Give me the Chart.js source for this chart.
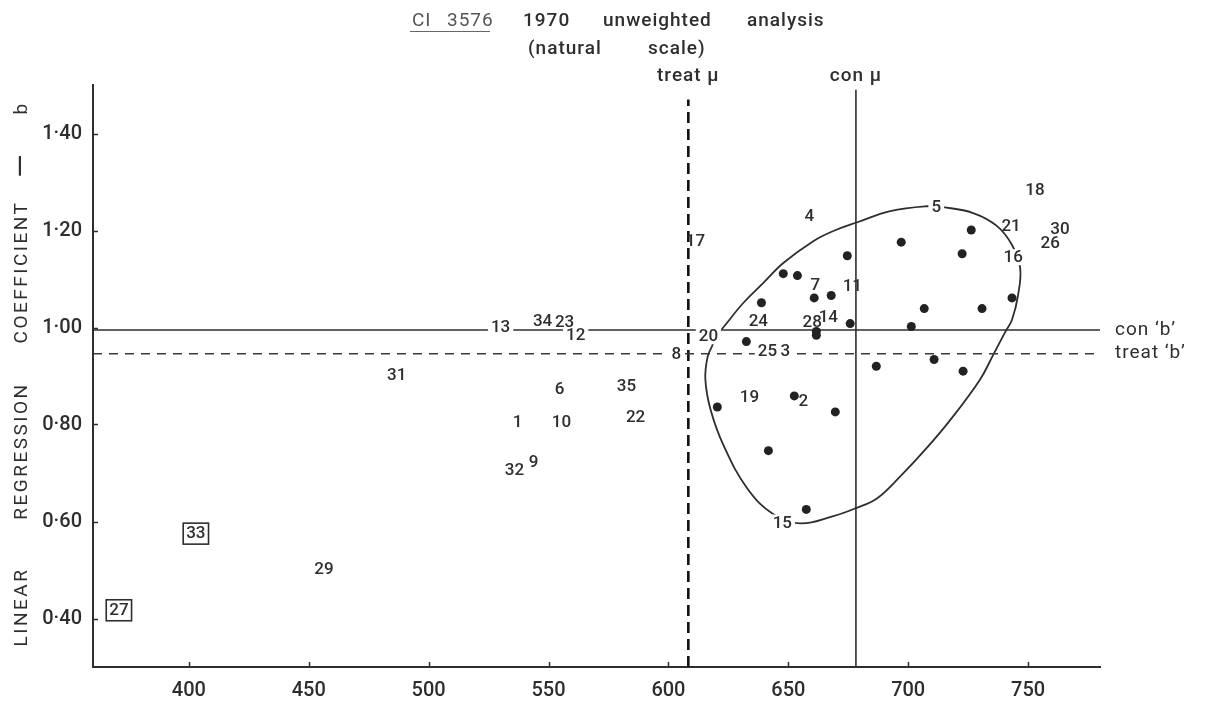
<!DOCTYPE html>
<html>
<head>
<meta charset="utf-8">
<script src="https://cdn.jsdelivr.net/npm/chart.js@4.4.1/dist/chart.umd.min.js"></script>
<style>
  html, body { margin: 0; padding: 0; background: #fff; }
  canvas { display: block; }
</style>
</head>
<body>
<canvas id="c" width="1206" height="710"></canvas>
<script>
// Numbered sites: mean yield (x) and linear regression coefficient b (y)
const siteIds  = [1, 2, 3, 4, 5, 6, 7, 8, 9, 10, 11, 12, 13, 14, 15, 16, 17, 18,
                  19, 20, 21, 22, 23, 24, 25, 26, 27, 28, 29, 30, 31, 32, 33, 34, 35];
const siteMean = [537.1, 656.3, 648.8, 658.8, 711.7, 554.6, 661.3, 603.3, 543.8, 555.4,
                  676.7, 561.3, 530.0, 666.7, 647.5, 743.8, 611.3, 752.9, 633.8, 616.7,
                  742.9, 586.3, 556.7, 637.5, 641.3, 759.2, 370.8, 660.0, 456.3, 763.3,
                  486.7, 535.8, 402.9, 547.5, 582.5];
const siteB    = [0.805, 0.850, 0.953, 1.230, 1.248, 0.873, 1.088, 0.945, 0.723, 0.805,
                  1.086, 0.986, 1.002, 1.023, 0.598, 1.145, 1.178, 1.283, 0.857, 0.982,
                  1.209, 0.816, 1.012, 1.014, 0.953, 1.174, 0.418, 1.012, 0.502, 1.203,
                  0.902, 0.707, 0.576, 1.014, 0.879];

// Unnumbered points inside the contour
const dotMean = [674.6, 647.9, 653.8, 660.8, 667.9, 638.8, 675.8, 661.7, 661.7, 632.5,
                 697.1, 726.3, 722.5, 743.3, 706.7, 730.8, 701.3, 710.8, 686.7, 722.9,
                 620.4, 652.5, 669.6, 641.7, 657.5];
const dotB    = [1.148, 1.111, 1.107, 1.061, 1.066, 1.051, 1.008, 0.992, 0.984, 0.971,
                 1.176, 1.201, 1.152, 1.061, 1.039, 1.039, 1.002, 0.934, 0.920, 0.910,
                 0.836, 0.859, 0.826, 0.746, 0.625];

// Closed contour drawn round the main cluster (starts and ends at site 20)
const loopMean = [619.6, 622.5, 631.3, 639.6, 647.9, 660.4, 668.8, 678.8, 692.5, 707.9,
                  714.6, 727.1, 737.1, 743.3, 746.7, 745.8, 743.3, 740.4, 735.4, 730.0,
                  717.5, 707.1, 696.7, 687.1, 677.9, 668.8, 655.0, 643.8, 632.9, 622.9,
                  617.5, 615.4, 616.3, 618.3, 619.6];
const loopB    = [0.982, 0.998, 1.051, 1.092, 1.133, 1.178, 1.199, 1.217, 1.240, 1.250,
                  1.248, 1.236, 1.209, 1.170, 1.123, 1.066, 1.016, 0.990, 0.943, 0.893,
                  0.809, 0.748, 0.693, 0.648, 0.627, 0.611, 0.596, 0.615, 0.668, 0.758,
                  0.832, 0.893, 0.939, 0.963, 0.982];

// Reference means and slopes
const conMu = 678.2;
const treatMu = 608.3;
const conB = 0.995;
const treatB = 0.946;

// Axis ticks
const xTicks = [400, 450, 500, 550, 600, 650, 700, 750];
const yTicks = [0.40, 0.60, 0.80, 1.00, 1.20, 1.40];
const xRange = [360, 780];
const yRange = [0.30, 1.50];

// Sites drawn in a box, and sites whose label cuts the line beneath it
const boxedSites = [27, 33];
const cutSites = [3, 5, 8, 12, 13, 15, 16, 20, 25];

const FONT = '"Roboto", "DejaVu Sans", sans-serif';
const INK = '#2e2e2e';

const sitePoints = siteIds.map((id, i) => ({ x: siteMean[i], y: siteB[i], id }));
const dotPoints = dotMean.map((m, i) => ({ x: m, y: dotB[i] }));
const loopPoints = loopMean.map((m, i) => ({ x: m, y: loopB[i] }));

function lineSet(label, pts, extra) {
  return Object.assign({
    label, data: pts, showLine: true, pointRadius: 0, borderColor: INK,
    borderWidth: 1.6, fill: false, order: 3
  }, extra || {});
}

// Numbers written at each site, with white cut-outs where they sit on a line
const siteLabels = {
  id: 'siteLabels',
  afterDatasetDraw(chart, args) {
    const ds = chart.data.datasets[args.index];
    if (ds.label !== 'sites') return;
    const ctx = chart.ctx;
    const meta = args.meta;
    ctx.save();
    ctx.font = '500 17px ' + FONT;
    ctx.textAlign = 'center';
    ctx.textBaseline = 'middle';
    meta.data.forEach((el, i) => {
      const id = ds.data[i].id;
      if (!cutSites.includes(id)) return;
      const w = ctx.measureText(String(id)).width;
      ctx.fillStyle = '#fff';
      ctx.fillRect(el.x - w / 2 - 3, el.y - 8, w + 6, 16);
    });
    meta.data.forEach((el, i) => {
      const id = ds.data[i].id;
      const t = String(id);
      ctx.fillStyle = INK;
      ctx.fillText(t, el.x, el.y + 1);
      if (boxedSites.includes(id)) {
        const w = ctx.measureText(t).width;
        ctx.strokeStyle = INK;
        ctx.lineWidth = 1.6;
        ctx.strokeRect(el.x - w / 2 - 3, el.y - 10, w + 6, 21);
      }
    });
    ctx.restore();
  }
};

// Titles, axis caption, line names and inward tick marks
const decorations = {
  id: 'decorations',
  afterDraw(chart) {
    const ctx = chart.ctx;
    const xs = chart.scales.x, ys = chart.scales.y;
    const area = chart.chartArea;
    ctx.save();
    ctx.fillStyle = INK;
    ctx.textBaseline = 'middle';
    ctx.textAlign = 'left';

    // inward tick marks
    ctx.strokeStyle = INK;
    ctx.lineWidth = 1.5;
    xTicks.forEach(v => {
      const px = Math.round(xs.getPixelForValue(v)) + 0.5;
      ctx.beginPath(); ctx.moveTo(px, area.bottom); ctx.lineTo(px, area.bottom - 5); ctx.stroke();
    });
    yTicks.forEach(v => {
      const py = Math.round(ys.getPixelForValue(v)) + 0.5;
      ctx.beginPath(); ctx.moveTo(area.left, py); ctx.lineTo(area.left + 5, py); ctx.stroke();
    });

    // heading
    ctx.font = '400 19px ' + FONT;
    if ('letterSpacing' in ctx) ctx.letterSpacing = '1px';
    ctx.fillStyle = '#555';
    ctx.fillText('CI', 412, 21);
    ctx.fillText('3576', 447, 21);
    ctx.strokeStyle = '#666';
    ctx.lineWidth = 1.2;
    ctx.beginPath(); ctx.moveTo(410, 31.5); ctx.lineTo(490, 31.5); ctx.stroke();
    ctx.fillStyle = INK;
    ctx.font = '500 19px ' + FONT;
    ctx.fillText('1970', 523, 21);
    ctx.fillText('unweighted', 603, 21);
    ctx.fillText('analysis', 747, 21);
    ctx.fillText('(natural', 528, 49);
    ctx.fillText('scale)', 648, 49);

    // mean labels above the vertical lines
    ctx.textAlign = 'center';
    ctx.fillText('treat \u03bc', xs.getPixelForValue(treatMu), 76);
    ctx.fillText('con \u03bc', xs.getPixelForValue(conMu), 76);

    // slope labels to the right of the horizontal lines
    ctx.textAlign = 'left';
    ctx.font = '400 19px ' + FONT;
    ctx.fillText('con \u2018b\u2019', area.right + 15, ys.getPixelForValue(conB));
    ctx.fillText('treat \u2018b\u2019', area.right + 15, ys.getPixelForValue(treatB));

    // vertical axis caption, read bottom to top
    ctx.save();
    ctx.translate(22, 0);
    ctx.rotate(-Math.PI / 2);
    ctx.textAlign = 'center';
    ctx.font = '400 19px ' + FONT;
    if ('letterSpacing' in ctx) ctx.letterSpacing = '2.5px';
    [['LINEAR', 607], ['REGRESSION', 451], ['COEFFICIENT', 272], ['b', 108]]
      .forEach(([t, y]) => ctx.fillText(t, -y, 0));
    ctx.font = '400 30px ' + FONT;
    if ('letterSpacing' in ctx) ctx.letterSpacing = '0px';
    ctx.fillText('\u2014', -166, 0);
    ctx.restore();

    ctx.restore();
  }
};

new Chart(document.getElementById('c'), {
  type: 'scatter',
  data: {
    datasets: [
      lineSet('con b', [{ x: xRange[0], y: conB }, { x: xRange[1], y: conB }], { borderWidth: 1.5 }),
      lineSet('treat b', [{ x: xRange[0], y: treatB }, { x: xRange[1], y: treatB }],
              { borderDash: [9, 7], borderWidth: 1.4, borderColor: '#3a3a3a' }),
      lineSet('con mu', [{ x: conMu, y: yRange[0] }, { x: conMu, y: 1.49 }], { borderWidth: 1.6 }),
      lineSet('treat mu', [{ x: treatMu, y: yRange[0] }, { x: treatMu, y: 1.47 }],
              { borderDash: [11, 6], borderWidth: 2.6, borderColor: '#111' }),
      lineSet('contour', loopPoints, { tension: 0.4, borderWidth: 1.8 }),
      { label: 'sites', data: sitePoints, pointRadius: 0, order: 2 },
      { label: 'dots', data: dotPoints, pointRadius: 4.5, pointBackgroundColor: '#222',
        pointBorderWidth: 0, order: 1 }
    ]
  },
  options: {
    responsive: false,
    devicePixelRatio: 1,
    animation: false,
    events: [],
    layout: { padding: { top: 85, right: 106, bottom: 0, left: 0 } },
    plugins: { legend: { display: false }, tooltip: { enabled: false }, title: { display: false } },
    scales: {
      x: {
        type: 'linear', min: xRange[0], max: xRange[1],
        afterBuildTicks: s => { s.ticks = xTicks.map(v => ({ value: v })); },
        afterFit: s => { s.height = 43; },
        grid: { display: false, drawTicks: false },
        border: { display: true, color: INK, width: 2 },
        ticks: { color: INK, font: { family: FONT, size: 20, weight: '500' }, padding: 12,
                 maxRotation: 0, autoSkip: false, callback: v => String(v) }
      },
      y: {
        type: 'linear', min: yRange[0], max: yRange[1],
        afterBuildTicks: s => { s.ticks = yTicks.map(v => ({ value: v })); },
        afterFit: s => { s.width = 93; },
        grid: { display: false, drawTicks: false },
        border: { display: true, color: INK, width: 2 },
        ticks: { color: INK, font: { family: FONT, size: 20, weight: '500' }, padding: 11,
                 autoSkip: false, callback: v => Number(v).toFixed(2).replace('.', '\u00b7') }
      }
    }
  },
  plugins: [siteLabels, decorations]
});
</script>
</body>
</html>
